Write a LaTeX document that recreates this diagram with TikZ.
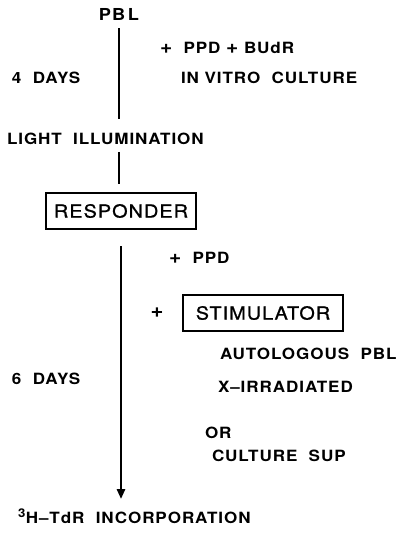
\documentclass[tikz,border=0pt]{standalone}
\usepackage{fontspec}
\setmainfont{TeX Gyre Heros}
\newfontfamily\lblfont{TeX Gyre Heros}[FakeStretch=1.1,LetterSpace=6]
\newfontfamily\boxfont{TeX Gyre Heros}[FakeStretch=1.1,LetterSpace=6,FakeBold=1]
\newcommand\bigplus{{\fontsize{19}{19}\selectfont +}}
\usetikzlibrary{arrows.meta}
\tikzset{
  lbl/.style={inner sep=0pt,outer sep=0pt,anchor=west,font=\lblfont\bfseries\fontsize{15.5}{18}\selectfont},
  boxlbl/.style={draw,line width=2pt,inner sep=0pt,minimum height=36pt,font=\boxfont\fontsize{18}{21}\selectfont},
  stem/.style={line width=2.6pt}
}
\begin{document}
\begin{tikzpicture}[x=1pt,y=-1pt]
\path[use as bounding box] (0,0) rectangle (397,535);
% first culture
\node[lbl,anchor=center,font=\lblfont\bfseries\fontsize{16.5}{19}\selectfont] (pbl) at (119,14) {PB\,L};
\node[lbl] (budr) at (160,48) {\bigplus\ \ PPD \bigplus\ BUdR};
\node[lbl] (vitro) at (181,78) {IN VITRO \ CULTURE};
\node[lbl] (days4) at (12,78) {4 \ DAYS};
\node[lbl] (light) at (7,139) {LIGHT \ ILLUMINATION};
\node[boxlbl,minimum width=150pt] (responder) at (121,211) {RESPONDER};
% second culture
\node[lbl] (ppd) at (169,258) {\bigplus\ \ PPD};
\node[lbl,anchor=center,font=\lblfont\bfseries\fontsize{20}{22}\selectfont] (plus) at (157,313) {+};
\node[boxlbl,minimum width=160pt] (stimulator) at (263,313) {STIMULATOR};
\node[lbl] (auto) at (220,354) {AUTOLOGOUS \ PBL};
\node[lbl] (xirr) at (218,387) {X–IRRADIATED};
\node[lbl] (days6) at (12,379) {6 \ DAYS};
\node[lbl] (or) at (205,433) {OR};
\node[lbl] (sup) at (212,456) {CULTURE \ SUP};
\node[lbl,anchor=base west] (incorp) at (18,523) {\textsuperscript{\fontsize{12}{12}\selectfont 3}H–TdR \ INCORPORATION};
% stems
\draw[stem,shorten <=8pt,shorten >=14pt] (pbl.south) -- (pbl.south |- light.north);
\draw[stem,shorten <=7pt,shorten >=8pt] (pbl.south |- light.south) -- (pbl.south |- responder.north);
\draw[stem,-{Triangle[length=10pt,width=8pt]},shorten <=16pt,shorten >=10pt] (responder.south) -- (responder.south |- incorp.north);
\end{tikzpicture}
\end{document}
